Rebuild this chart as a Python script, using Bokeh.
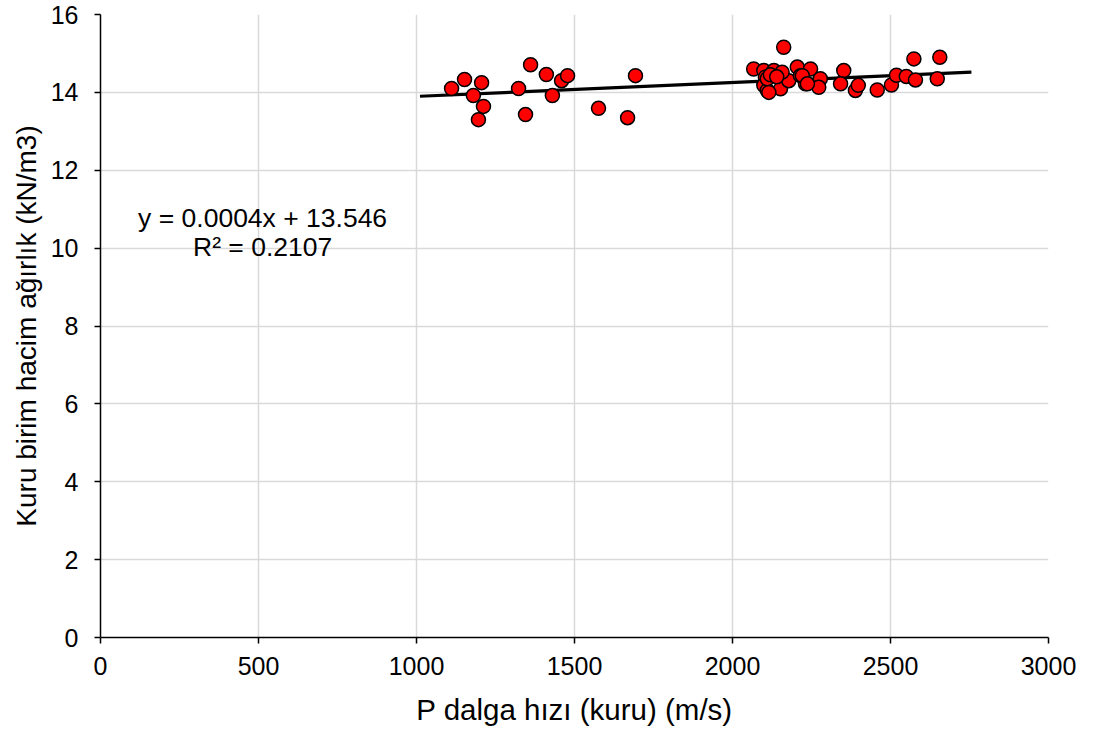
from bokeh.plotting import figure
from bokeh.models import Label, Range1d, FixedTicker
from bokeh.embed import file_html
from bokeh.resources import INLINE
import numpy as np

# Data: P-wave velocity (dry) vs dry unit weight
vp = [1111, 1152, 1180, 1196, 1206, 1212, 1323, 1345, 1361, 1411, 1430, 1459, 1478, 1576, 1668, 1693,
      2067, 2099, 2162, 2131, 2104, 2099, 2110, 2152, 2152, 2178, 2205, 2215, 2247, 2231, 2278, 2273,
      2352, 2342, 2389, 2398, 2458, 2503, 2519, 2550, 2574, 2579, 2656, 2648, 2157, 2110, 2115, 2221,
      2237, 2120, 2140]
gamma = [14.10, 14.33, 13.92, 13.30, 14.25, 13.64, 14.10, 13.43, 14.71, 14.46, 13.92, 14.30, 14.43, 13.59, 13.35, 14.43,
         14.60, 14.56, 15.16, 14.56, 14.39, 14.18, 14.05, 14.35, 14.09, 14.30, 14.65, 14.43, 14.60, 14.22, 14.35, 14.13,
         14.56, 14.22, 14.05, 14.18, 14.06, 14.19, 14.44, 14.41, 14.86, 14.32, 14.90, 14.35, 14.52, 14.35, 14.00, 14.43,
         14.22, 14.45, 14.40]

trend_slope = 0.000355
trend_intercept = 13.541
trend_extend = 100

x_ticks = [0, 500, 1000, 1500, 2000, 2500, 3000]
y_ticks = [0, 2, 4, 6, 8, 10, 12, 14, 16]

eq_text = "y = 0.0004x + 13.546"
r2_text = "R² = 0.2107"
x_title = "P dalga hızı (kuru) (m/s)"
y_title = "Kuru birim hacim ağırlık (kN/m3)"

FONT = "Liberation Sans"

p = figure(width=1094, height=733, output_backend="svg", toolbar_location=None,
           x_range=Range1d(0, 3000), y_range=Range1d(0, 16),
           min_border_left=100, min_border_right=46, min_border_top=14, min_border_bottom=96)
p.frame_width = 948
p.frame_height = 623
p.outline_line_color = None
p.background_fill_color = "white"
p.border_fill_color = "white"

for ax in (p.xaxis[0], p.yaxis[0]):
    ax.axis_line_color = "black"
    ax.axis_line_width = 1.5
    ax.major_tick_line_color = "black"
    ax.major_tick_line_width = 1.5
    ax.major_tick_out = 6
    ax.major_tick_in = 0
    ax.minor_tick_line_color = None
    ax.major_label_text_font = FONT
    ax.major_label_text_font_size = "25px"
    ax.major_label_text_color = "black"
    ax.axis_label_text_font = FONT
    ax.axis_label_text_font_style = "normal"
    ax.axis_label_text_color = "black"

p.xaxis.axis_label_text_font_size = "29.5px"
p.yaxis.axis_label_text_font_size = "28px"
p.xaxis.ticker = FixedTicker(ticks=x_ticks)
p.yaxis.ticker = FixedTicker(ticks=y_ticks)
p.xaxis.axis_label = x_title
p.yaxis.axis_label = y_title
p.xaxis.major_label_standoff = 13
p.yaxis.major_label_standoff = 16
p.xaxis.axis_label_standoff = 15
p.yaxis.axis_label_standoff = 6

p.xgrid.ticker = FixedTicker(ticks=x_ticks)
p.ygrid.ticker = FixedTicker(ticks=y_ticks)
p.grid.grid_line_color = "#d9d9d9"
p.grid.grid_line_width = 1.5

# trend line
tx = np.array([min(vp) - trend_extend, max(vp) + trend_extend])
ty = trend_slope * tx + trend_intercept
p.line(tx, ty, line_color="black", line_width=3.2)

p.scatter(vp, gamma, size=14, fill_color="#ff0000", line_color="black", line_width=1.5)

p.add_layout(Label(x=513, y=10.786, text=eq_text, text_align="center", text_baseline="alphabetic",
                   text_font=FONT, text_font_size="26.5px", text_color="black"))
p.add_layout(Label(x=513, y=10.04, text=r2_text, text_align="center", text_baseline="alphabetic",
                   text_font=FONT, text_font_size="26.5px", text_color="black"))

open("out.html", "w").write(file_html(p, INLINE))
